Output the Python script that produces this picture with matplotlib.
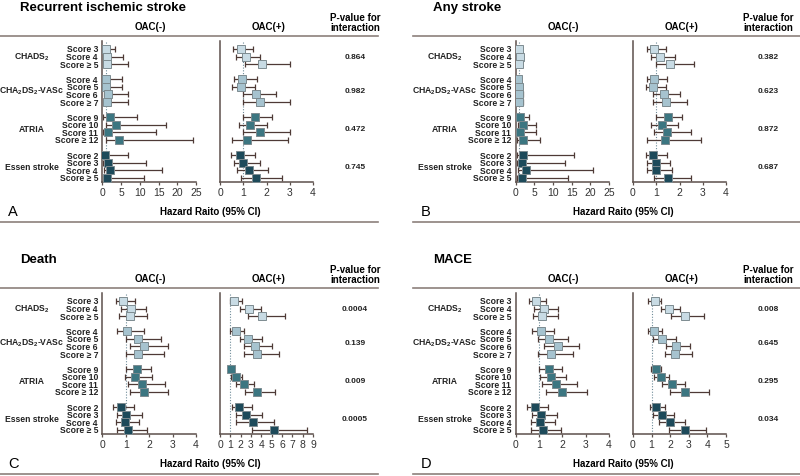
import matplotlib
matplotlib.use('Agg')
import matplotlib.pyplot as plt
import matplotlib.transforms as mtrans
from matplotlib.lines import Line2D

plt.rcParams['font.family'] = ['Liberation Sans', 'DejaVu Sans']
plt.rcParams['mathtext.fontset'] = 'custom'
plt.rcParams['mathtext.rm'] = 'Liberation Sans'
plt.rcParams['mathtext.bf'] = 'Liberation Sans:bold'

W, H = 800, 477

# ---- data ----
score_labels = ['Score 3', 'Score 4', 'Score ≥ 5',
                'Score 4', 'Score 5', 'Score 6', 'Score ≥ 7',
                'Score 9', 'Score 10', 'Score 11', 'Score ≥ 12',
                'Score 2', 'Score 3', 'Score 4', 'Score ≥ 5']
group_names = [r'CHADS$_\mathbf{2}$', r'CHA$_\mathbf{2}$DS$_\mathbf{2}$-VASc', 'ATRIA', 'Essen stroke']
group_sizes = [3, 4, 4, 4]

panel_titles = ['Recurrent ischemic stroke', 'Any stroke', 'Death', 'MACE']
panel_letters = ['A', 'B', 'C', 'D']

A_neg_hr = [0.9, 1.3, 1.3, 1.0, 0.9, 1.5, 1.25, 2.05, 3.6, 1.6, 4.3, 0.7, 1.6, 2.0, 1.1]
A_neg_lo = [0.3, 0.3, 0.3, 0.2, 0.2, 0.3, 0.3, 0.2, 0.9, 0.2, 1.0, 0.2, 0.2, 0.3, 0.2]
A_neg_hi = [3.3, 5.4, 6.9, 5.1, 5.1, 6.7, 6.7, 9.2, 17.0, 14.3, 24.3, 6.9, 11.6, 16.0, 11.0]
A_pos_hr = [0.91, 1.13, 1.8, 0.96, 0.89, 1.53, 1.73, 1.49, 1.27, 1.73, 1.17, 0.84, 1.01, 1.23, 1.56]
A_pos_lo = [0.56, 0.7, 1.06, 0.6, 0.53, 1.01, 1.01, 1.01, 0.8, 1.01, 0.51, 0.49, 0.6, 0.74, 0.89]
A_pos_hi = [1.41, 1.74, 3.03, 1.6, 1.49, 2.41, 2.99, 2.23, 2.03, 2.99, 2.94, 1.49, 1.7, 2.06, 2.67]

B_neg_hr = [0.9, 1.15, 1.0, 0.8, 0.9, 0.9, 0.9, 1.2, 2.0, 1.1, 1.9, 2.0, 1.7, 2.8, 1.7]
B_neg_lo = [0.4, 0.6, 0.5, 0.4, 0.4, 0.4, 0.4, 0.4, 0.6, 0.3, 0.4, 0.3, 0.3, 0.6, 0.4]
B_neg_hi = [1.6, 1.8, 1.8, 1.4, 1.6, 2.1, 2.0, 3.7, 5.4, 5.4, 6.5, 15.6, 13.2, 20.8, 14.1]
B_pos_hr = [0.9, 1.16, 1.61, 0.9, 0.86, 1.33, 1.4, 1.5, 1.26, 1.47, 1.36, 0.87, 1.01, 1.01, 1.51]
B_pos_lo = [0.59, 0.79, 1.0, 0.59, 0.54, 0.86, 0.86, 1.01, 0.79, 0.9, 0.61, 0.54, 0.61, 0.61, 0.9]
B_pos_hi = [1.43, 1.79, 2.61, 1.47, 1.43, 2.01, 2.33, 2.11, 1.93, 2.5, 2.94, 1.47, 1.59, 1.69, 2.5]

C_neg_hr = [0.89, 1.24, 1.16, 1.06, 1.53, 1.79, 1.53, 1.46, 1.41, 1.71, 1.79, 0.81, 1.0, 0.96, 1.07]
C_neg_lo = [0.56, 0.81, 0.71, 0.63, 1.0, 1.17, 1.0, 1.0, 0.96, 1.1, 1.17, 0.43, 0.6, 0.56, 0.63]
C_neg_hi = [1.41, 1.84, 1.89, 1.77, 2.49, 2.81, 2.63, 2.06, 2.1, 2.67, 2.81, 1.34, 1.67, 1.56, 1.89]
C_pos_hr = [1.35, 2.8, 4.06, 1.52, 2.71, 3.42, 3.61, 1.1, 1.58, 2.29, 3.58, 1.84, 2.55, 3.19, 5.19]
C_pos_lo = [1.0, 1.9, 2.7, 1.0, 1.9, 2.29, 2.32, 0.85, 1.1, 1.58, 2.39, 1.16, 1.58, 1.58, 3.13]
C_pos_hi = [2.13, 4.0, 6.26, 2.32, 4.1, 5.03, 5.71, 1.35, 2.13, 3.26, 5.35, 3.1, 4.1, 5.19, 8.45]

D_neg_hr = [0.88, 1.22, 1.15, 1.08, 1.45, 1.8, 1.52, 1.45, 1.52, 1.73, 2.0, 0.84, 1.09, 1.06, 1.16]
D_neg_lo = [0.58, 0.81, 0.74, 0.69, 0.95, 1.23, 0.98, 1.02, 1.05, 1.12, 1.3, 0.48, 0.69, 0.65, 0.67]
D_neg_hi = [1.3, 1.8, 1.8, 1.66, 2.23, 2.71, 2.47, 2.01, 2.14, 2.65, 3.04, 1.38, 1.79, 1.69, 1.94]
D_pos_hr = [1.17, 1.93, 2.77, 1.13, 1.54, 2.32, 2.27, 1.22, 1.49, 2.07, 2.82, 1.26, 1.58, 1.97, 2.78]
D_pos_lo = [0.83, 1.49, 2.02, 0.83, 1.08, 1.79, 1.7, 0.96, 1.13, 1.58, 1.99, 0.9, 1.1, 1.4, 1.94]
D_pos_hi = [1.49, 2.55, 3.83, 1.58, 2.29, 3.09, 3.17, 1.49, 1.93, 2.82, 4.11, 1.72, 2.23, 2.77, 3.92]

p_values = [['0.864', '0.982', '0.472', '0.745'],
            ['0.382', '0.623', '0.872', '0.687'],
            ['0.0004', '0.139', '0.009', '0.0005'],
            ['0.008', '0.645', '0.295', '0.034']]

# x axis max and tick step for (OAC-, OAC+) per panel
x_max = [(25, 4), (25, 4), (4, 9), (4, 5)]
x_step = [(5, 1), (5, 1), (1, 1), (1, 1)]

group_colors = ['#c8dbe4', '#a6c3cf', '#3c7681', '#1d4a5a']
bar_color = '#4e3a36'
spine_color = '#5c504c'
rule_color = '#8c807b'

panel_data = [
    ((A_neg_hr, A_neg_lo, A_neg_hi), (A_pos_hr, A_pos_lo, A_pos_hi)),
    ((B_neg_hr, B_neg_lo, B_neg_hi), (B_pos_hr, B_pos_lo, B_pos_hi)),
    ((C_neg_hr, C_neg_lo, C_neg_hi), (C_pos_hr, C_pos_lo, C_pos_hi)),
    ((D_neg_hr, D_neg_lo, D_neg_hi), (D_pos_hr, D_pos_lo, D_pos_hi)),
]

# row positions: one blank row between groups
rows, row_colors, group_mid = [], [], []
pos = 0
for gi, n in enumerate(group_sizes):
    grp = list(range(pos, pos + n))
    rows += grp
    row_colors += [group_colors[gi]] * n
    group_mid.append(1 if n == 3 else (grp[0] + grp[-1]) / 2)
    pos += n + 1


def fx(x):
    return x / W


def fy(y):
    return 1 - y / H


fig = plt.figure(figsize=(W / 100, H / 100), dpi=100)


def forest(x0, x1, y0, y1, hr, lo, hi, xmax, step):
    ax = fig.add_axes([fx(x0), fy(y1), fx(x1) - fx(x0), fy(y0) - fy(y1)])
    ax.axvline(1, color='#6f8c99', ls=(0, (1, 1.5)), lw=0.8, zorder=1)
    for r, h, l, u, c in zip(rows, hr, lo, hi, row_colors):
        ax.errorbar([h], [r], xerr=[[h - l], [u - h]], fmt='none', ecolor=bar_color,
                    elinewidth=0.9, capsize=1.9, capthick=0.9, zorder=2)
        ax.plot([h], [r], marker='s', ms=5.4, mfc=c, mec='#7d8b90', mew=0.7, zorder=3)
    ax.set_ylim(17.55, -1.05)
    ax.set_xlim(0, xmax)
    ax.set_xticks(range(0, xmax + 1, step))
    ax.set_yticks([])
    for s in ['top', 'right']:
        ax.spines[s].set_visible(False)
    for s in ['left', 'bottom']:
        ax.spines[s].set_color(spine_color)
        ax.spines[s].set_linewidth(1.1)
    ax.tick_params(axis='x', direction='out', length=2.5, width=0.9, color=spine_color,
                   labelsize=7.5, pad=1, labelcolor='#333333')
    ax.patch.set_alpha(0)
    return ax


for p in range(4):
    dx = 413 * (p % 2)
    dy = 252 * (p // 2)
    (neg, posd) = panel_data[p]

    fig.text(fx(20 + dx), fy(8 + dy), panel_titles[p], fontsize=9.5, fontweight='bold',
             va='center', ha='left')
    fig.text(fx(150 + dx), fy(27 + dy), 'OAC(-)', fontsize=7, fontweight='bold', ha='center', va='center')
    fig.text(fx(269 + dx), fy(27 + dy), 'OAC(+)', fontsize=7, fontweight='bold', ha='center', va='center')
    fig.text(fx(355 + dx), fy(23 + dy), 'P-value for\ninteraction', fontsize=7, fontweight='bold',
             ha='center', va='center', linespacing=1.05)

    x_end = 378 + dx + (12 if p % 2 else 0)
    fig.add_artist(Line2D([fx(0 + dx), fx(x_end)], [fy(37 + dy), fy(37 + dy)],
                          color=rule_color, lw=1.2))
    fig.add_artist(Line2D([fx(0 + dx), fx(x_end)], [fy(223 + dy), fy(223 + dy)],
                          color=rule_color, lw=1.2))

    axl = forest(102.5 + dx, 196 + dx, 42 + dy, 183 + dy, *neg, x_max[p][0], x_step[p][0])
    forest(220 + dx, 313 + dx, 42 + dy, 183 + dy, *posd, x_max[p][1], x_step[p][1])

    tr = mtrans.blended_transform_factory(fig.transFigure, axl.transData)
    for r, lab in zip(rows, score_labels):
        axl.text(fx(98 + dx), r, lab, transform=tr, fontsize=6.2, fontweight='bold',
                 ha='right', va='center', color='#222222')
    for gm, gname, pv in zip(group_mid, group_names, p_values[p]):
        axl.text(fx(32 + dx), gm, gname, transform=tr, fontsize=6.2, fontweight='bold',
                 ha='center', va='center', color='#222222')
        axl.text(fx(355 + dx), gm, pv, transform=tr, fontsize=6, fontweight='bold',
                 ha='center', va='center', color='#222222')

    fig.text(fx(8 + dx), fy(212 + dy), panel_letters[p], fontsize=10.5, ha='left', va='center')
    fig.text(fx(210 + dx), fy(212 + dy), 'Hazard Raito (95% CI)', fontsize=7, fontweight='bold',
             ha='center', va='center')

fig.savefig('out.png', dpi=100, facecolor='white')
